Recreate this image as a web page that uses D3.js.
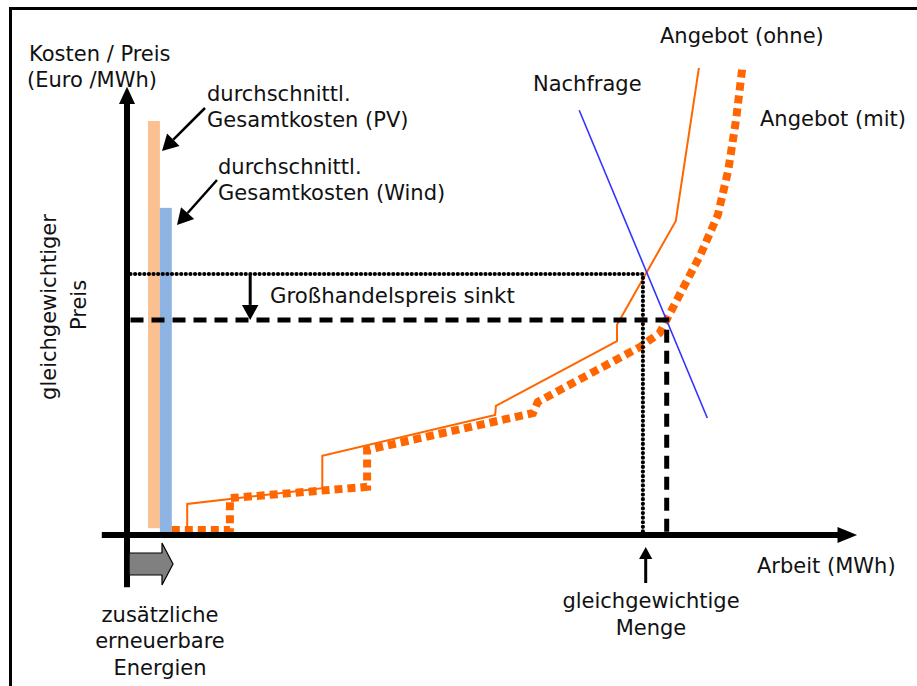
<!DOCTYPE html>
<html>
<head>
<meta charset="utf-8">
<script src="https://cdn.jsdelivr.net/npm/d3@7"></script>
<style>
  html, body { margin: 0; padding: 0; background: #fff; }
  svg text { font-family: "DejaVu Sans", sans-serif; fill: #111; }
</style>
</head>
<body>
<div id="chart"></div>
<script>
// ---- data (x = Arbeit units, y = Preis units, schematic 0..100) ----
const ohneX = [0.3, 8.6, 8.6, 27.9, 27.9, 52.6, 52.7, 70.0, 70.0, 78.4, 81.7];
const ohneY = [0.4, 0.4, 6.9, 10.4, 17.6, 26.7, 28.7, 43.1, 46.7, 69.8, 103.8];
const mitX  = [6.4, 14.7, 14.7, 34.3, 34.3, 58.0, 58.7, 73.3, 76.1, 81.9, 84.4, 85.9, 87.0, 87.9];
const mitY  = [1.1, 1.1, 8.2, 10.7, 18.9, 27.1, 29.6, 41.8, 44.9, 62.2, 71.1, 81.1, 92.2, 103.8];
const nachfrageX = [64.6, 82.9];
const nachfrageY = [94.4, 26.0];
const barNames = ["PV", "Wind"];
const barX0 = [3.0, 4.7];
const barX1 = [4.7, 6.4];
const barTop = [92.0, 72.7];
const barBottom = [1.5, 0];
const priceOld = 58.0, priceNew = 47.8;
const qtyOld = 73.7, qtyNew = 77.1;

const W = 917, H = 686;
const svg = d3.select("#chart").append("svg").attr("width", W).attr("height", H);

const x = d3.scaleLinear().domain([0, 100]).range([127, 827]);
const y = d3.scaleLinear().domain([0, 100]).range([535, 85]);

// frame
svg.append("path").attr("d", `M10.5,${H} L10.5,8.5 L${W},8.5`)
  .attr("fill", "none").attr("stroke", "#000").attr("stroke-width", 3);

const line = d3.line().x(d => x(d[0])).y(d => y(d[1]));

// supply (ohne)
svg.append("path").datum(ohneX.map((v, i) => [v, ohneY[i]]))
  .attr("d", line).attr("fill", "none").attr("stroke", "#FF6600").attr("stroke-width", 2);

// bars
barNames.forEach((n, i) => {
  svg.append("rect")
    .attr("x", x(barX0[i])).attr("width", x(barX1[i]) - x(barX0[i]))
    .attr("y", y(barTop[i])).attr("height", y(barBottom[i]) - y(barTop[i]))
    .attr("fill", i === 0 ? "#FAC090" : "#8EB4E3");
});

// supply (mit)
svg.append("path").datum(mitX.map((v, i) => [v, mitY[i]]))
  .attr("d", line).attr("fill", "none").attr("stroke", "#FF6600")
  .attr("stroke-width", 8).attr("stroke-dasharray", "8,5").attr("stroke-linejoin", "miter");

// demand
svg.append("path").datum(nachfrageX.map((v, i) => [v, nachfrageY[i]]))
  .attr("d", line).attr("fill", "none").attr("stroke", "#3333FF").attr("stroke-width", 1.6);

// dotted equilibrium (old)
svg.append("path")
  .attr("d", `M${x(0.5)},${y(priceOld)} L${x(qtyOld)},${y(priceOld)} L${x(qtyOld)},${y(0)}`)
  .attr("fill", "none").attr("stroke", "#000").attr("stroke-width", 4.2)
  .attr("stroke-linecap", "round").attr("stroke-dasharray", "0.01,4.6");

// dashed equilibrium (new)
svg.append("path")
  .attr("d", `M${x(0.5)},${y(priceNew)} L${x(qtyNew)},${y(priceNew)} L${x(qtyNew)},${y(0)}`)
  .attr("fill", "none").attr("stroke", "#000").attr("stroke-width", 5)
  .attr("stroke-dasharray", "13,8");

// axes
const ax = svg.append("g");
ax.append("line").attr("x1", x(-3.6)).attr("x2", x(102)).attr("y1", y(0)).attr("y2", y(0))
  .attr("stroke", "#000").attr("stroke-width", 6);
ax.append("path").attr("d", `M${x(104.3)},${y(0)} L${x(101.5)},${y(0) - 8} L${x(101.5)},${y(0) + 8} Z`).attr("fill", "#000");
ax.append("line").attr("x1", x(0)).attr("x2", x(0)).attr("y1", y(-11.6)).attr("y2", y(96))
  .attr("stroke", "#000").attr("stroke-width", 6);
ax.append("path").attr("d", `M${x(0)},${y(99.6)} L${x(0) - 8},${y(95.8)} L${x(0) + 8},${y(95.8)} Z`).attr("fill", "#000");

// helper arrow
function arrow(x1, y1, x2, y2, w, head) {
  const ang = Math.atan2(y2 - y1, x2 - x1);
  const hl = head, hw = head * 0.55;
  const bx = x2 - hl * Math.cos(ang), by = y2 - hl * Math.sin(ang);
  svg.append("line").attr("x1", x1).attr("y1", y1).attr("x2", bx).attr("y2", by)
    .attr("stroke", "#000").attr("stroke-width", w);
  const px = -Math.sin(ang) * hw, py = Math.cos(ang) * hw;
  svg.append("path").attr("d", `M${x2},${y2} L${bx + px},${by + py} L${bx - px},${by - py} Z`).attr("fill", "#000");
}
arrow(205, 108, 162, 151, 2.5, 16);
arrow(217, 180, 177, 225, 2.5, 16);
arrow(x(17.6), y(priceOld), x(17.6), y(priceNew), 3, 15);
arrow(x(74.1), 583, x(74.1), 547, 3, 12);

// gray block arrow
svg.append("path")
  .attr("d", `M${x(0.3)},553 L162,553 L162,543 L173,564 L162,585 L162,575 L${x(0.3)},575 Z`)
  .attr("fill", "#808080").attr("stroke", "#000").attr("stroke-width", 1.2);

// texts
const fs = 21;
function txt(s, tx, ty, anchor, size) {
  return svg.append("text").attr("x", tx).attr("y", ty).attr("text-anchor", anchor || "start")
    .attr("font-size", size || fs).text(s);
}
txt("Kosten / Preis", 29, 61);
txt("(Euro /MWh)", 27, 87);
txt("durchschnittl.", 207, 101);
txt("Gesamtkosten (PV)", 207, 127);
txt("durchschnittl.", 218, 174);
txt("Gesamtkosten (Wind)", 218, 200);
txt("Nachfrage", 533, 91);
txt("Angebot (ohne)", 660, 43);
txt("Angebot (mit)", 760, 126);
txt("Großhandelspreis sinkt", 270, 303, "start", 21.3);
txt("Arbeit (MWh)", 757, 573);
txt("gleichgewichtige", 651, 608, "middle");
txt("Menge", 651, 635, "middle");
txt("zusätzliche", 160, 622, "middle");
txt("erneuerbare", 160, 648, "middle");
txt("Energien", 160, 675, "middle");
svg.append("text").attr("transform", "translate(56,307) rotate(-90)").attr("text-anchor", "middle")
  .attr("font-size", fs).text("gleichgewichtiger");
svg.append("text").attr("transform", "translate(86,305) rotate(-90)").attr("text-anchor", "middle")
  .attr("font-size", fs).text("Preis");
</script>
</body>
</html>
